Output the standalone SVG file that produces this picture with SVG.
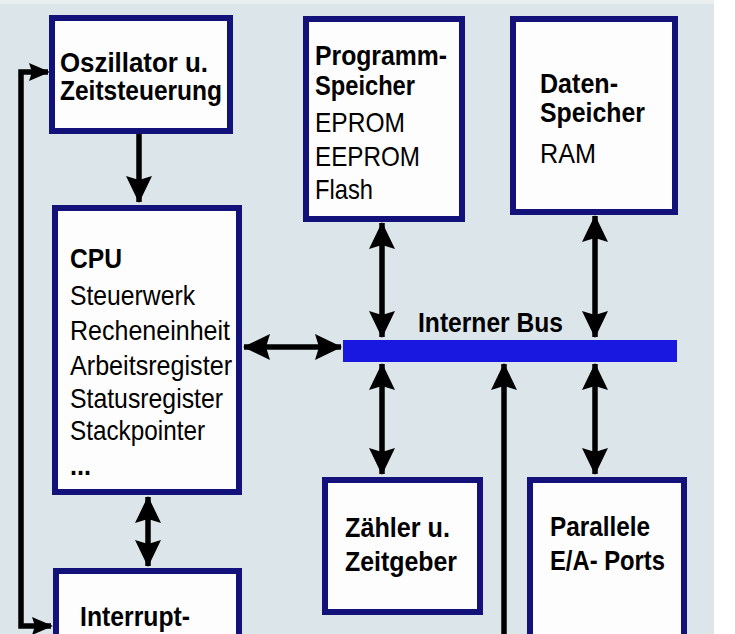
<svg xmlns="http://www.w3.org/2000/svg" width="735" height="634" viewBox="0 0 735 634">
<style>
.box{fill:#fdfdfd;stroke:#12127a;stroke-width:6}
.t{font-family:"Liberation Sans",Arial,sans-serif;font-size:28px;fill:#000}
.b{font-weight:bold}
.ln{stroke:#000;stroke-width:5.5;fill:none}
</style>
<defs>
<marker id="ah" markerUnits="userSpaceOnUse" markerWidth="28" markerHeight="28" refX="26" refY="13" orient="auto-start-reverse">
<path d="M0,0 L27,13 L0,26 L4,13 z" fill="#000"/>
</marker>
<marker id="as" markerUnits="userSpaceOnUse" markerWidth="22" markerHeight="20" refX="19" refY="9" orient="auto-start-reverse">
<path d="M0,0 L21,9 L0,18 L3,9 z" fill="#000"/>
</marker>
</defs>
<rect x="0" y="0" width="735" height="634" fill="#ffffff"/>
<rect x="0" y="0" width="714" height="634" fill="#dce5e9"/>
<rect x="0" y="0" width="714" height="4" fill="#e9eff1"/>

<g id="bus">
<rect x="343" y="340" width="334" height="22" fill="#1818e0"/>
<text class="t b" x="418" y="332" textLength="145" lengthAdjust="spacingAndGlyphs">Interner Bus</text>
</g>

<g id="connectors">
<path class="ln" d="M48,72 H21 V626 H51" marker-start="url(#as)" marker-end="url(#as)"/>
<path class="ln" d="M139,134 V202" marker-end="url(#ah)"/>
<path class="ln" d="M244,347 H341" marker-start="url(#ah)" marker-end="url(#ah)"/>
<path class="ln" d="M382,223 V337" marker-start="url(#ah)" marker-end="url(#ah)"/>
<path class="ln" d="M595,216 V337" marker-start="url(#ah)" marker-end="url(#ah)"/>
<path class="ln" d="M382,364 V474" marker-start="url(#ah)" marker-end="url(#ah)"/>
<path class="ln" d="M595,364 V474" marker-start="url(#ah)" marker-end="url(#ah)"/>
<path class="ln" d="M504,634 V364" marker-end="url(#ah)"/>
<path class="ln" d="M148,497 V566" marker-start="url(#ah)" marker-end="url(#ah)"/>
</g>

<g id="oszillator">
<rect class="box" x="52" y="18" width="178" height="113"/>
<text class="t b" x="60" y="72" textLength="148" lengthAdjust="spacingAndGlyphs">Oszillator u.</text>
<text class="t b" x="60" y="100" textLength="162" lengthAdjust="spacingAndGlyphs">Zeitsteuerung</text>
</g>

<g id="programmspeicher">
<rect class="box" x="306" y="19" width="156" height="200"/>
<text class="t b" x="315" y="65" textLength="132" lengthAdjust="spacingAndGlyphs">Programm-</text>
<text class="t b" x="315" y="95" textLength="100" lengthAdjust="spacingAndGlyphs">Speicher</text>
<text class="t" x="315" y="132" textLength="90" lengthAdjust="spacingAndGlyphs">EPROM</text>
<text class="t" x="315" y="166" textLength="105" lengthAdjust="spacingAndGlyphs">EEPROM</text>
<text class="t" x="315" y="199" textLength="58" lengthAdjust="spacingAndGlyphs">Flash</text>
</g>

<g id="datenspeicher">
<rect class="box" x="513" y="19" width="162" height="193"/>
<text class="t b" x="540" y="93" textLength="78" lengthAdjust="spacingAndGlyphs">Daten-</text>
<text class="t b" x="540" y="122" textLength="105" lengthAdjust="spacingAndGlyphs">Speicher</text>
<text class="t" x="540" y="163" textLength="56" lengthAdjust="spacingAndGlyphs">RAM</text>
</g>

<g id="cpu">
<rect class="box" x="55" y="208" width="184" height="284"/>
<text class="t b" x="70" y="268" textLength="52" lengthAdjust="spacingAndGlyphs">CPU</text>
<text class="t" x="70" y="305" textLength="125" lengthAdjust="spacingAndGlyphs">Steuerwerk</text>
<text class="t" x="70" y="340" textLength="160" lengthAdjust="spacingAndGlyphs">Recheneinheit</text>
<text class="t" x="70" y="375" textLength="162" lengthAdjust="spacingAndGlyphs">Arbeitsregister</text>
<text class="t" x="70" y="408" textLength="153" lengthAdjust="spacingAndGlyphs">Statusregister</text>
<text class="t" x="70" y="440" textLength="135" lengthAdjust="spacingAndGlyphs">Stackpointer</text>
<text class="t b" x="70" y="475" textLength="21" lengthAdjust="spacingAndGlyphs">...</text>
</g>

<g id="interrupt">
<rect class="box" x="56" y="571" width="183" height="100"/>
<text class="t b" x="80" y="626" textLength="110" lengthAdjust="spacingAndGlyphs">Interrupt-</text>
</g>

<g id="zaehler">
<rect class="box" x="325" y="480" width="155" height="132"/>
<text class="t b" x="345" y="537" textLength="105" lengthAdjust="spacingAndGlyphs">Zähler u.</text>
<text class="t b" x="345" y="571" textLength="112" lengthAdjust="spacingAndGlyphs">Zeitgeber</text>
</g>

<g id="parallele">
<rect class="box" x="530" y="480" width="154" height="200"/>
<text class="t b" x="550" y="536" textLength="100" lengthAdjust="spacingAndGlyphs">Parallele</text>
<text class="t b" x="550" y="570" textLength="115" lengthAdjust="spacingAndGlyphs">E/A- Ports</text>
</g>
</svg>
